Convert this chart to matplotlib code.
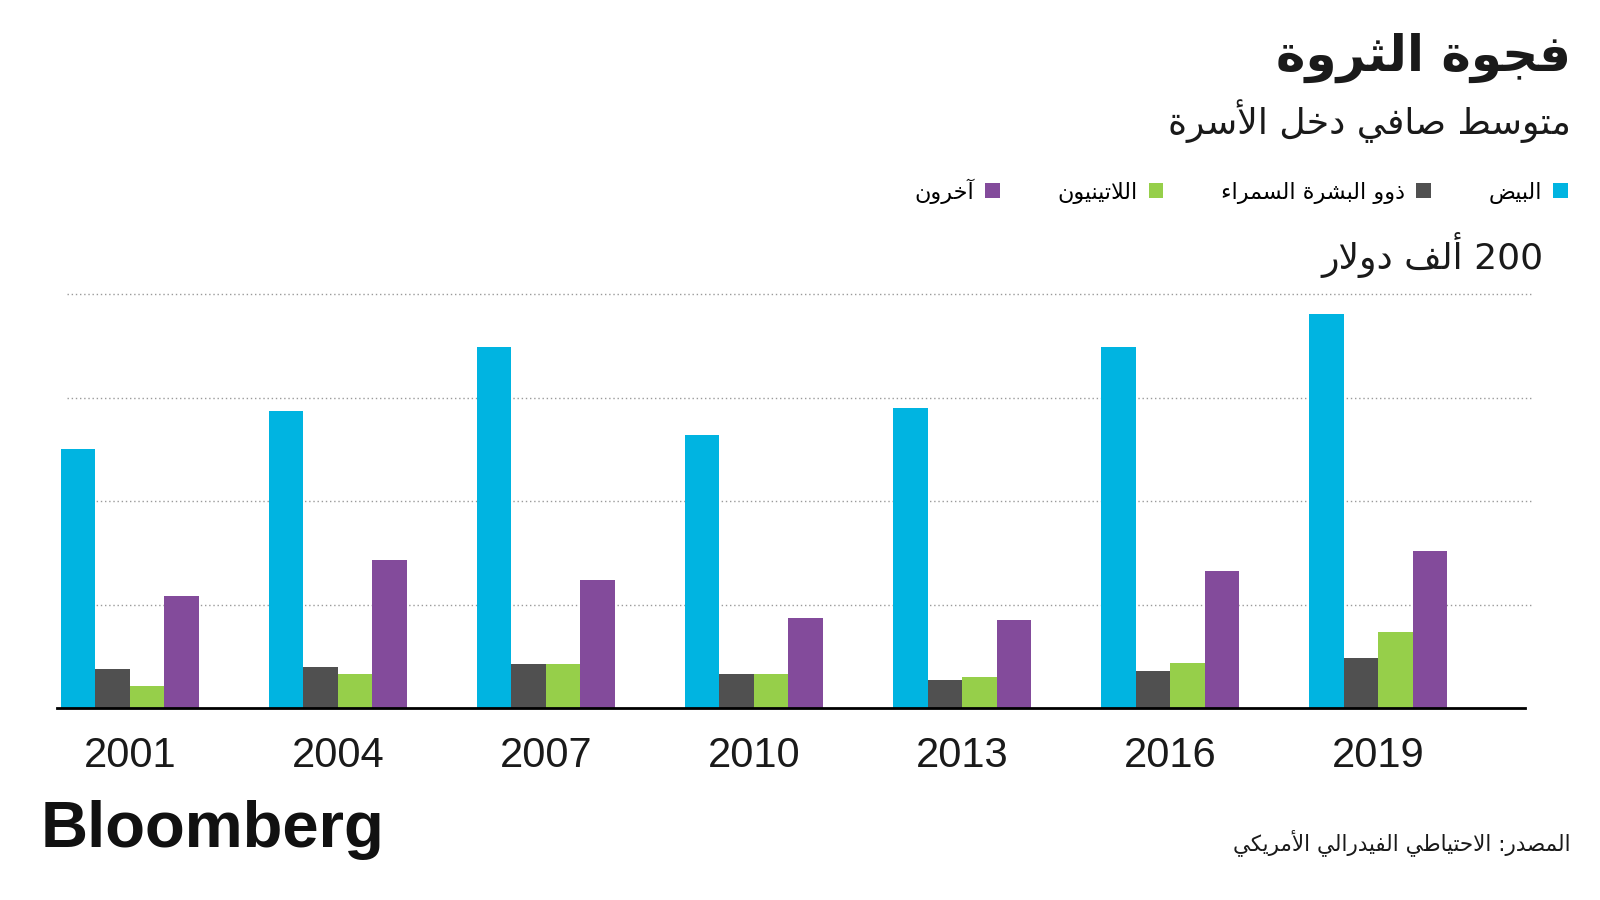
import re
import matplotlib
matplotlib.use("Agg")
import matplotlib.pyplot as plt
import numpy as np

# median household net worth, thousands of dollars
years = ["2001", "2004", "2007", "2010", "2013", "2016", "2019"]
white = [125.0, 143.3, 174.2, 132.1, 144.9, 174.2, 190.4]
black = [19.2, 20.0, 21.5, 16.5, 13.7, 17.9, 24.2]
latino = [10.8, 16.5, 21.5, 16.5, 15.0, 22.1, 36.9]
other = [54.4, 71.8, 62.1, 43.7, 42.4, 66.1, 76.0]

group_names = ["البيض", "ذوو البشرة السمراء", "اللاتينيون", "آخرون"]
colors = ["#00B4E1", "#505050", "#96CF4A", "#834B9B"]

title = "فجوة الثروة"
subtitle = "متوسط صافي دخل الأسرة"
unit_label = "200 ألف دولار"
source = "المصدر: الاحتياطي الفيدرالي الأمريكي"

# matplotlib has no arabic shaping / bidi, so do a small version by hand
LETTERS = "ءآأؤإئابةتثجحخدذرزسشصضطظعغفقكلمنهوىي"
RIGHT_ONLY = "آأؤإاةدذرزوى"
FORMS = {}
code = 0xFE80
for ch in LETTERS:
    n = 1 if ch == "ء" else 2 if ch in RIGHT_ONLY else 4
    FORMS[ch] = [chr(code + k) for k in range(n)]
    code += n
LAM_ALEF = {"آ": 0xFEF5, "أ": 0xFEF7, "إ": 0xFEF9, "ا": 0xFEFB}


def joins_fwd(ch):
    return ch in FORMS and len(FORMS[ch]) == 4


def joins(ch):
    return ch in FORMS and ch != "ء"


def shape(text):
    out = []
    i = 0
    while i < len(text):
        ch = text[i]
        prev = text[i - 1] if i > 0 else ""
        nxt = text[i + 1] if i + 1 < len(text) else ""
        if ch not in FORMS:
            out.append(ch)
            i += 1
            continue
        p = joins_fwd(prev) and joins(ch)
        if ch == "ل" and nxt in LAM_ALEF:
            out.append(chr(LAM_ALEF[nxt] + (1 if p else 0)))
            i += 2
            continue
        nx = joins_fwd(ch) and joins(nxt)
        f = FORMS[ch]
        if len(f) == 1:
            out.append(f[0])
        elif p and nx:
            out.append(f[3])
        elif p:
            out.append(f[1])
        elif nx:
            out.append(f[2])
        else:
            out.append(f[0])
        i += 1
    return "".join(out)


def ar(text):
    runs = re.findall(r"[0-9A-Za-z]+|[^0-9A-Za-z]+", shape(text))
    return "".join(r if re.match(r"[0-9A-Za-z]", r) else r[::-1] for r in reversed(runs))


AR_FONT = ["DejaVu Sans"]

fig = plt.figure(figsize=(16, 9), dpi=100)
# axes box = extent of the dotted grid lines
ax = fig.add_axes([66.7 / 1600, 191.7 / 900, 1466.3 / 1600, 424.7 / 900])

x = np.arange(len(years))
w = 0.1658
series = [white, black, latino, other]
bars = []
for j, (vals, name, c) in enumerate(zip(series, group_names, colors)):
    b = ax.bar(x + (j - 1.5) * w, vals, w, color=c, label=ar(name), zorder=2)
    for p in b:
        p.set_clip_on(False)
    bars.append(b)

ax.set_xlim(-0.3027, 6.7434)
ax.set_ylim(0, 205)
ax.set_yticks([50, 100, 150, 200])
ax.yaxis.grid(True, linestyle=(0, (1, 2)), color="#9a9a9a", linewidth=1)
ax.set_axisbelow(True)
ax.tick_params(axis="y", length=0, labelleft=False)
ax.set_xticks(x, years)
ax.tick_params(axis="x", length=0, pad=20, labelsize=30)
for lab in ax.get_xticklabels():
    lab.set_family("Liberation Sans")
    lab.set_color("#1a1a1a")
for s in ax.spines.values():
    s.set_visible(False)
# baseline sits a bit left of the grid lines
ax.axhline(0, xmin=-0.0066, xmax=0.9945, color="black", linewidth=2, clip_on=False, zorder=3)

leg = ax.legend(bars[::-1], [ar(n) for n in group_names[::-1]], ncol=4, markerfirst=False,
                loc="center right", bbox_to_anchor=(1568 / 1600, 1 - 191 / 900),
                bbox_transform=fig.transFigure, frameon=False, handlelength=0.66,
                handleheight=0.66, handletextpad=0.5, columnspacing=2.6,
                borderaxespad=0, borderpad=0, prop={"family": AR_FONT, "size": 16})

fig.text(1571 / 1600, 1 - 58 / 900, ar(title), ha="right", va="center",
         fontsize=36, fontweight="bold", family=AR_FONT, color="#1a1a1a")
fig.text(1571 / 1600, 1 - 121 / 900, ar(subtitle), ha="right", va="center",
         fontsize=26, family=AR_FONT, color="#1a1a1a")
fig.text(1544 / 1600, 1 - 255 / 900, ar(unit_label), ha="right", va="center",
         fontsize=26, family=AR_FONT, color="#1a1a1a")
fig.text(1571 / 1600, 1 - 843 / 900, ar(source), ha="right", va="center",
         fontsize=15.5, family=AR_FONT, color="#1a1a1a")
fig.text(41 / 1600, 1 - 830 / 900, "Bloomberg", ha="left", va="center",
         fontsize=47, fontweight="bold", family="Liberation Sans", color="#111111")

fig.savefig("out.png", dpi=100, facecolor="white")
